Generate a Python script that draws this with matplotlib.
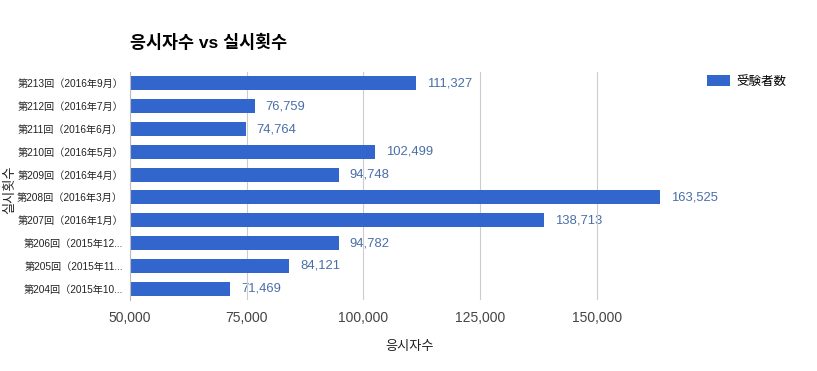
import matplotlib.pyplot as plt
from matplotlib.ticker import FuncFormatter

plt.rcParams['font.family'] = ['Liberation Sans', 'Noto Sans CJK KR', 'DejaVu Sans']

# exam rounds, top to bottom as drawn
rounds = ["第213回（2016年9月）", "第212回（2016年7月）", "第211回（2016年6月）",
          "第210回（2016年5月）", "第209回（2016年4月）", "第208回（2016年3月）",
          "第207回（2016年1月）", "第206回（2015年12...", "第205回（2015年11...",
          "第204回（2015年10..."]
examinees = [111327, 76759, 74764, 102499, 94748, 163525, 138713, 94782, 84121, 71469]
x_ticks = [50000, 75000, 100000, 125000, 150000]

BAR_COLOR = "#3366cc"

fig = plt.figure(figsize=(8.17, 3.71), dpi=100)
ax = fig.add_axes([130 / 817, 1 - 300 / 371, (690 - 130) / 817, (300 - 72) / 371])

pos = list(range(len(rounds)))[::-1]
ax.barh(pos, examinees, height=0.62, color=BAR_COLOR, left=0, zorder=2, label="受験者数")

for y, v in zip(pos, examinees):
    ax.text(v + 2300, y, f"{v:,}", va="center", ha="left", fontsize=9.4, color="#4a6ea8", zorder=1)

ax.set_xlim(50000, 170000)
ax.set_ylim(-0.5, len(rounds) - 0.5)
ax.set_xticks(x_ticks)
ax.xaxis.set_major_formatter(FuncFormatter(lambda v, p: f"{int(v):,}"))
ax.set_yticks(pos)
ax.set_yticklabels(rounds, fontsize=7.3, color="#222222")
ax.tick_params(axis="x", labelsize=10, colors="#444444", length=0, pad=8)
ax.tick_params(axis="y", length=0, pad=5)
ax.grid(axis="x", color="#cccccc", linewidth=0.8, zorder=1.5)

for s in ["top", "right", "bottom"]:
    ax.spines[s].set_visible(False)
ax.spines["left"].set_color("#bbbbbb")
ax.spines["left"].set_linewidth(0.8)

fig.text(130 / 817, 1 - 42 / 371, "응시자수 vs 실시횟수", fontsize=12.5, fontweight="bold",
         va="center", ha="left", color="#000000")
fig.text(410 / 817, 1 - 347 / 371, "응시자수", fontsize=9.5, style="italic",
         ha="center", va="center", color="#222222")
fig.text(10 / 817, 1 - 190 / 371, "실시횟수", fontsize=9.5, style="italic", rotation=90,
         ha="center", va="center", color="#222222")

leg = fig.legend(loc="upper left", bbox_to_anchor=(696 / 817, 1 - 64 / 371), frameon=False,
                 fontsize=9, handlelength=1.8, handleheight=0.9, handletextpad=0.5)

fig.savefig("out.png", dpi=100)
